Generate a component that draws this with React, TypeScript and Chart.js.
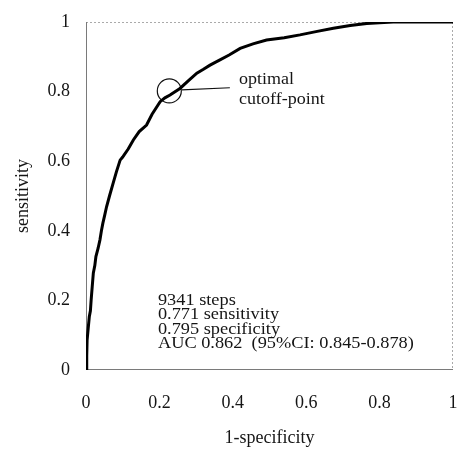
import React, { useEffect, useRef } from "react";
import { Chart, registerables } from "chart.js";

Chart.register(...registerables);

// ROC curve
const fpr = [0, 0.002, 0.003, 0.006, 0.009, 0.012, 0.014, 0.017, 0.020, 0.024, 0.027, 0.033, 0.038, 0.042, 0.046, 0.051, 0.056, 0.064, 0.074, 0.083, 0.093, 0.100, 0.104, 0.115, 0.129, 0.145, 0.165, 0.180, 0.202, 0.215, 0.229, 0.256, 0.280, 0.302, 0.320, 0.338, 0.365, 0.390, 0.420, 0.455, 0.492, 0.540, 0.583, 0.630, 0.674, 0.720, 0.765, 0.800, 0.837, 0.900, 0.950, 1.0];
const tpr = [0, 0.04, 0.086, 0.12, 0.153, 0.17, 0.201, 0.24, 0.279, 0.30, 0.326, 0.35, 0.374, 0.40, 0.422, 0.445, 0.469, 0.50, 0.537, 0.57, 0.603, 0.612, 0.618, 0.635, 0.661, 0.685, 0.704, 0.735, 0.771, 0.782, 0.790, 0.809, 0.832, 0.853, 0.864, 0.876, 0.891, 0.905, 0.924, 0.937, 0.948, 0.955, 0.963, 0.973, 0.982, 0.99, 0.996, 0.998, 1.0, 1.0, 1.0, 1.0];

// optimal cut-off marker and its leader line
const cutoffPoint = { x: 0.227, y: 0.802 };
const leaderX = [0.261, 0.392];
const leaderY = [0.805, 0.811];

const tickValues = [0, 0.2, 0.4, 0.6, 0.8, 1];
const tickLabels = ["0", "0.2", "0.4", "0.6", "0.8", "1"];

const annotationLabel = ["optimal", "cutoff-point"];
const statsLines = [
  "9341 steps",
  "0.771 sensitivity",
  "0.795 specificity",
  "AUC 0.862  (95%CI: 0.845-0.878)",
];

const xTitle = "1-specificity";
const yTitle = "sensitivity";

const FONT = '"Liberation Serif", "Times New Roman", serif';

function tickLabel(v: number) {
  const i = tickValues.findIndex((t) => Math.abs(t - v) < 1e-6);
  return i >= 0 ? tickLabels[i] : "";
}

export default function App() {
  const ref = useRef<HTMLCanvasElement | null>(null);

  useEffect(() => {
    if (!ref.current) return;

    const framePlugin = {
      id: "frame",
      beforeDatasetsDraw(chart: any) {
        const { ctx, chartArea: a } = chart;
        ctx.save();
        ctx.lineWidth = 1;
        ctx.strokeStyle = "#aaaaaa";
        ctx.setLineDash([2, 2]);
        ctx.beginPath();
        ctx.moveTo(a.left, a.top + 0.5);
        ctx.lineTo(a.right, a.top + 0.5);
        ctx.moveTo(a.right - 0.5, a.top);
        ctx.lineTo(a.right - 0.5, a.bottom);
        ctx.stroke();
        ctx.setLineDash([]);
        ctx.strokeStyle = "#7a7a7a";
        ctx.beginPath();
        ctx.moveTo(a.left + 0.5, a.top);
        ctx.lineTo(a.left + 0.5, a.bottom - 0.5);
        ctx.lineTo(a.right, a.bottom - 0.5);
        ctx.stroke();
        ctx.restore();
      },
      afterDraw(chart: any) {
        const { ctx } = chart;
        const xs = chart.scales.x;
        const ys = chart.scales.y;
        ctx.save();
        ctx.fillStyle = "#151515";
        ctx.textAlign = "left";
        ctx.textBaseline = "alphabetic";
        const drawStretched = (t: string, x: number, y: number, sx: number) => {
          ctx.save();
          ctx.translate(x, y);
          ctx.scale(sx, 1);
          ctx.fillText(t, 0, 0);
          ctx.restore();
        };
        // annotation label
        ctx.font = `17px ${FONT}`;
        const ax = xs.getPixelForValue(0.417);
        const ay = ys.getPixelForValue(0.823);
        annotationLabel.forEach((t, i) => drawStretched(t, ax, ay + i * 20, 1.06));
        // stats block
        ctx.font = `16px ${FONT}`;
        const sx = xs.getPixelForValue(0.196);
        const sy = ys.getPixelForValue(0.187);
        statsLines.forEach((t, i) => drawStretched(t, sx, sy + i * 14.5, 1.145));
        ctx.restore();
      },
    };

    const chart = new Chart(ref.current, {
      type: "scatter",
      data: {
        datasets: [
          {
            data: fpr.map((x, i) => ({ x, y: tpr[i] })),
            showLine: true,
            borderColor: "#000",
            borderWidth: 3,
            pointRadius: 0,
            tension: 0,
          },
          {
            data: [cutoffPoint],
            pointRadius: 12,
            pointBorderWidth: 1.2,
            pointBorderColor: "#111",
            pointBackgroundColor: "rgba(0,0,0,0)",
            showLine: false,
          },
          {
            data: leaderX.map((x, i) => ({ x, y: leaderY[i] })),
            showLine: true,
            borderColor: "#111",
            borderWidth: 1.2,
            pointRadius: 0,
          },
        ],
      },
      options: {
        responsive: false,
        animation: false,
        layout: { autoPadding: false, padding: { top: 22, right: 5, left: 8, bottom: 0 } },
        plugins: {
          legend: { display: false },
          tooltip: { enabled: false },
        },
        scales: {
          x: {
            type: "linear",
            min: 0,
            max: 1,
            grid: { display: false, drawTicks: false },
            border: { display: false },
            ticks: {
              stepSize: 0.2,
              padding: 0,
              color: "#151515",
              font: { family: FONT, size: 18, lineHeight: "67px" },
              maxRotation: 0,
              callback: (v: any) => tickLabel(Number(v)),
            },
            title: {
              display: true,
              text: xTitle,
              color: "#151515",
              font: { family: FONT, size: 18 },
            },
            afterFit: (s: any) => {
              s.height = 83;
            },
          },
          y: {
            type: "linear",
            min: 0,
            max: 1,
            grid: { display: false, drawTicks: false },
            border: { display: false },
            ticks: {
              stepSize: 0.2,
              padding: 16,
              color: "#151515",
              font: { family: FONT, size: 18 },
              callback: (v: any) => tickLabel(Number(v)),
            },
            title: {
              display: true,
              text: yTitle,
              color: "#151515",
              font: { family: FONT, size: 18 },
            },
            afterFit: (s: any) => {
              s.width = 78;
              s.paddingTop = 0;
              s.paddingBottom = 0;
            },
          },
        },
      },
      plugins: [framePlugin],
    });

    return () => chart.destroy();
  }, []);

  return (
    <div style={{ position: "absolute", left: 0, top: 0, width: 458, height: 453, background: "#fff" }}>
      <canvas ref={ref} width={458} height={453} style={{ display: "block" }} />
    </div>
  );
}
